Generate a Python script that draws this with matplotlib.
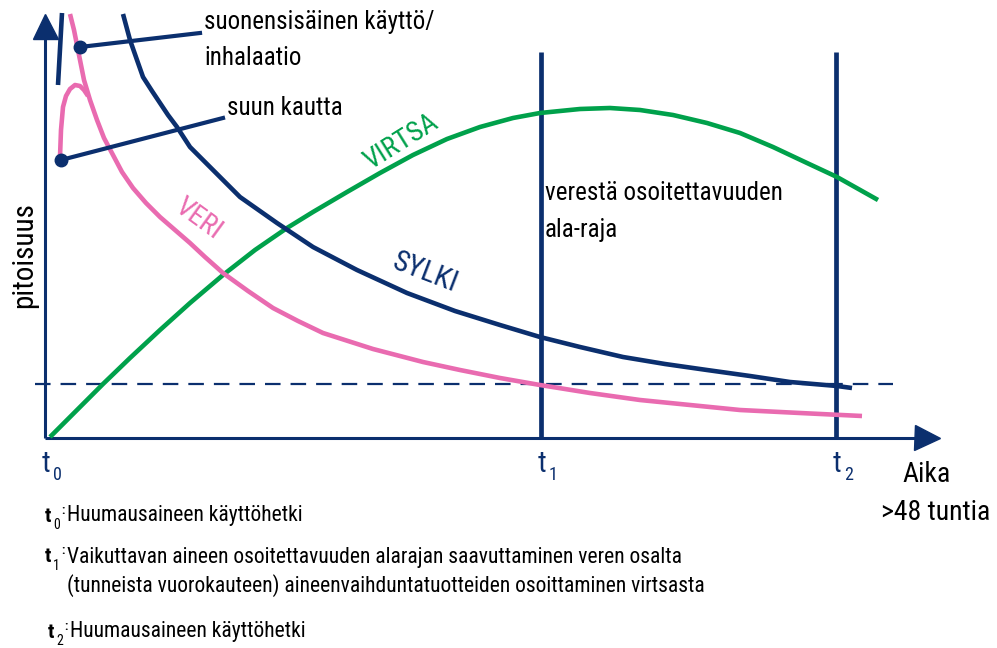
import matplotlib.pyplot as plt
from matplotlib import font_manager

# curve points, x/y measured from the origin of the time axis
veri_x = [25, 29, 34, 39, 45, 52, 59, 68, 77, 88, 101, 115, 130, 145, 160, 178, 203, 228, 253, 278,
          303, 328, 378, 415, 455, 495, 545, 595, 645, 695, 755, 817]
veri_y = [424, 408, 383, 358, 338, 318, 300, 283, 266, 250, 235, 221, 208, 195, 181, 165, 147, 130, 117, 105,
          97, 89, 76, 68, 60, 53, 45, 38, 33, 28, 25, 22]

suun_x = [15, 16, 18, 21, 25, 30, 35, 39, 43]
suun_y = [281, 308, 331, 342, 349, 353, 352, 348, 342]

sylki_x = [78, 85, 92, 98, 107, 115, 123, 132, 145, 165, 195, 232, 268, 312, 362, 410, 455, 495, 535,
           578, 620, 662, 705, 745, 792, 807]
sylki_y = [424, 398, 378, 361, 347, 335, 323, 311, 291, 271, 241, 215, 191, 168, 145, 127, 113, 101, 91,
           81, 74, 68, 62, 56, 52, 50]

virtsa_x = [5, 35, 58, 85, 115, 145, 178, 210, 242, 268, 302, 335, 368, 402, 435, 468, 495, 535, 565,
            595, 628, 662, 695, 728, 762, 792, 833]
virtsa_y = [1, 31, 54, 80, 108, 135, 163, 188, 210, 226, 246, 265, 283, 299, 311, 320, 325, 329, 330,
            328, 323, 315, 305, 291, 275, 261, 238]

iv_x = [17, 13]
iv_y = [425, 353]

t_pos = [0, 496, 791]
t_labels = ['0', '1', '2']
limit_level = 54

notes = [
    ('0', ['Huumausaineen käyttöhetki']),
    ('1', ['Vaikuttavan aineen osoitettavuuden alarajan saavuttaminen veren osalta',
           '(tunneista vuorokauteen) aineenvaihduntatuotteiden osoittaminen virtsasta']),
    ('2', ['Huumausaineen käyttöhetki']),
]

NAVY = '#0b2f6e'
PINK = '#e96bb0'
GREEN = '#00a14b'

names = {f.name for f in font_manager.fontManager.ttflist}
narrow = next((n for n in ['Liberation Sans Narrow', 'Roboto Condensed', 'Open Sans Condensed']
               if n in names), None)
if narrow:
    plt.rcParams['font.family'] = [narrow, 'DejaVu Sans']
else:
    plt.rcParams['font.family'] = ['DejaVu Sans']
    plt.rcParams['font.stretch'] = 'condensed'

fig = plt.figure(figsize=(9.97, 6.48), dpi=100)
ax = fig.add_axes([0, 0, 1, 1])
ax.set_xlim(-45, 952)
ax.set_ylim(-210, 438)
ax.axis('off')

# axes with arrows
ax.plot([0, 0], [0, 403], color=NAVY, lw=2.2, solid_capstyle='butt')
ax.plot([0, 875], [0, 0], color=NAVY, lw=2.2, solid_capstyle='butt')
ax.plot(0, 412, marker='^', ms=18, color=NAVY, clip_on=False)
ax.plot(882, 0, marker='>', ms=18, color=NAVY, clip_on=False)

# vertical time markers
for x in t_pos[1:]:
    ax.plot([x, x], [0, 386], color=NAVY, lw=3.4, solid_capstyle='butt')

ax.plot([-10, 848], [limit_level, limit_level], color=NAVY, lw=1.6, dashes=(7, 4.5))

line_kw = dict(lw=3.3, solid_capstyle='butt', solid_joinstyle='round')
ax.plot(virtsa_x, virtsa_y, color=GREEN, **line_kw)
ax.plot(veri_x, veri_y, color=PINK, **line_kw)
ax.plot(suun_x, suun_y, color=PINK, **line_kw)
ax.plot(sylki_x, sylki_y, color=NAVY, **line_kw)
ax.plot(iv_x, iv_y, color=NAVY, **line_kw)

# leader lines
ax.plot([35, 155], [391, 405], color=NAVY, lw=3)
ax.plot(35, 391, 'o', color=NAVY, ms=9)
ax.plot([16, 178], [278, 320], color=NAVY, lw=3)
ax.plot(16, 278, 'o', color=NAVY, ms=9)

big = 18
ax.text(159, 416, 'suonensisäinen käyttö/', fontsize=big, va='center')
ax.text(159, 380, 'inhalaatio', fontsize=big, va='center')
ax.text(182, 330, 'suun kautta', fontsize=big, va='center')
ax.text(500, 245, 'verestä osoitettavuuden', fontsize=big, va='center')
ax.text(500, 208, 'ala-raja', fontsize=big, va='center')

ax.text(356, 296, 'VIRTSA', fontsize=20, color=GREEN, rotation=32, ha='center', va='center')
ax.text(153, 219, 'VERI', fontsize=20, color=PINK, rotation=-36, ha='center', va='center')
ax.text(380, 165, 'SYLKI', fontsize=21, color=NAVY, rotation=-21, ha='center', va='center')

ax.text(-21, 183, 'pitoisuus', fontsize=21, rotation=90, ha='center', va='center')

for x, lab in zip(t_pos, t_labels):
    ax.text(x - 3, -26, 't', fontsize=21, color=NAVY, ha='left', va='center')
    ax.text(x + 8, -37, lab, fontsize=13, color=NAVY, ha='left', va='center')

ax.text(857, -36, 'Aika', fontsize=20, va='center')
ax.text(836, -74, '>48 tuntia', fontsize=20, va='center')

note_y = [-78, -119, -194]
for (lab, lines), y, dx in zip(notes, note_y, [0, 0, 3]):
    ax.text(dx, y, 't', fontsize=15, fontweight='bold', va='center')
    ax.text(dx + 8, y - 9, lab, fontsize=10, va='center')
    ax.text(dx + 16, y + 6, ':', fontsize=9, fontweight='bold', va='center')
    for i, line in enumerate(lines):
        ax.text(dx + 22, y - 29 * i, line, fontsize=15.5, va='center')

fig.savefig('out.png', dpi=100)
